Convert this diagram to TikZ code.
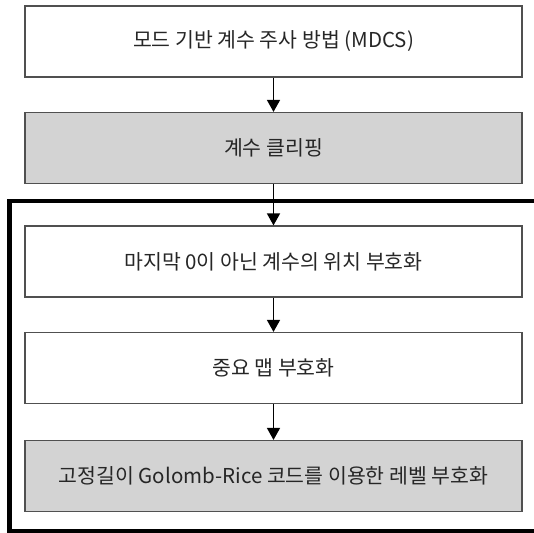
\documentclass[tikz,border=0pt]{standalone}
\usepackage{fontspec}
\setmainfont{Noto Sans CJK KR}
\usepackage{tikz}
\usetikzlibrary{arrows.meta}
\definecolor{boxgray}{RGB}{211,211,211}
\definecolor{edgegray}{RGB}{80,80,80}
\tikzset{stepbox/.style={rectangle,draw=edgegray,line width=1.2bp,minimum width=497bp,minimum height=71bp,inner sep=0pt,font=\fontsize{20.5bp}{24bp}\selectfont,text=black!85}}
\tikzset{shade/.style={fill=boxgray}}

\begin{document}
\begin{tikzpicture}[x=1bp,y=-1bp,>={Triangle[width=13bp,length=12bp]}]
    \clip (0,0) rectangle (534,533);
    \useasboundingbox (0,0) rectangle (534,533);
    \node[stepbox] (mdcs) at (273.5,41.5) {모드 기반 계수 주사 방법 (MDCS)};
    \node[stepbox,shade] (clip) at (273.5,148) {계수 클리핑};
    \node[stepbox] (last) at (273.5,261.5) {마지막 0이 아닌 계수의 위치 부호화};
    \node[stepbox] (sig) at (273.5,368) {중요 맵 부호화};
    \node[stepbox,shade] (level) at (273.5,476) {고정길이 Golomb-Rice 코드를 이용한 레벨 부호화};

    \draw [line width=4.5bp] (9.5,201) rectangle (545,531);

    \draw [->,line width=1.6bp] (mdcs) to []node[]{} (clip);
    \draw [->,line width=1.6bp] (clip) to []node[]{} (last);
    \draw [->,line width=1.6bp] (last) to []node[]{} (sig);
    \draw [->,line width=1.6bp] (sig) to []node[]{} (level);
\end{tikzpicture}
\end{document}
